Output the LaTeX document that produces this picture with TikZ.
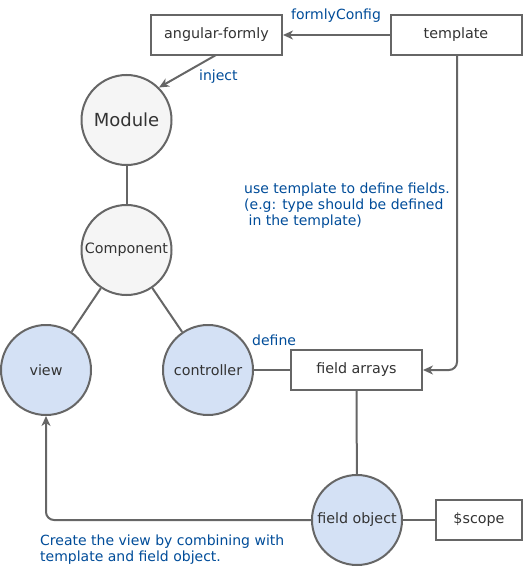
\documentclass[tikz,border=0pt]{standalone}
\usepackage{fontspec}
\setmainfont{DejaVu Sans}
\usetikzlibrary{arrows.meta}
\definecolor{strk}{HTML}{666666}
\definecolor{txt}{HTML}{333333}
\definecolor{lbl}{HTML}{004C99}
\definecolor{blu}{HTML}{D4E1F5}
\definecolor{gry}{HTML}{F5F5F5}
\tikzset{
  box/.style={draw=strk, line width=2pt, fill=white, text=txt, minimum width=131pt, minimum height=40pt, inner sep=0pt, font=\fontsize{14.3}{16}\selectfont},
  circ/.style={circle, draw=strk, line width=2pt, text=txt, minimum size=90pt, inner sep=0pt, font=\fontsize{14.3}{16}\selectfont},
  bcirc/.style={circ, fill=blu},
  gcirc/.style={circ, fill=gry},
  conn/.style={draw=strk, line width=2pt},
  arr/.style={conn, -{Stealth[length=10pt,width=9pt,inset=3pt]}},
  lab/.style={text=lbl, font=\fontsize{14}{16}\selectfont, inner sep=0pt, align=left},
}
\begin{document}
\begin{tikzpicture}[x=1pt, y=-1pt]
\useasboundingbox (0,0) rectangle (522,567);
\node[box] (af) at (216.5,35) {angular-formly};
\node[box] (tpl) at (456,35) {template};
\node[gcirc, font=\fontsize{18}{20}\selectfont] (mod) at (126.5,120) {Module};
\node[gcirc] (comp) at (126.5,250) {Component};
\node[bcirc] (view) at (46,370) {view};
\node[bcirc] (ctrl) at (208,370) {controller};
\node[box] (fa) at (356.5,370) {field arrays};
\node[bcirc] (fo) at (357,520) {field object};
\node[box, minimum width=86pt] (sc) at (479,520) {\$scope};
\coordinate (afout) at (216,55);
\coordinate (tplturn) at (457,370);
\coordinate (viewturn) at (46,520);

\draw[arr] (tpl.west) -- (af.east);
\draw[arr] (afout) -- (mod.45);
\draw[conn] (mod) -- (comp);
\draw[conn] (comp) -- (view);
\draw[conn] (comp) -- (ctrl);
\draw[conn] (ctrl) -- (fa);
\draw[arr, rounded corners=8pt] (tpl.south -| tplturn) -- (tplturn) -- (fa.east);
\draw[conn] (fa) -- (fo);
\draw[conn] (fo) -- (sc);
\draw[arr, rounded corners=8pt] (fo.west) -- (viewturn) -- (view.south);

\node[lab, anchor=base west] (lfc) at (291,20) {formlyConfig};
\node[lab, anchor=base west] (linj) at (199,81) {inject};
\node[lab, anchor=base west] (ldef) at (252,345) {define};
\node[lab, anchor=base west] (luse) at (244,225) {use template to define fields.\\(e.g: type should be defined\\\ in the template)};
\node[lab, anchor=base west] (lcre) at (40,561) {Create the view by combining with\\template and field object.};
\end{tikzpicture}
\end{document}
